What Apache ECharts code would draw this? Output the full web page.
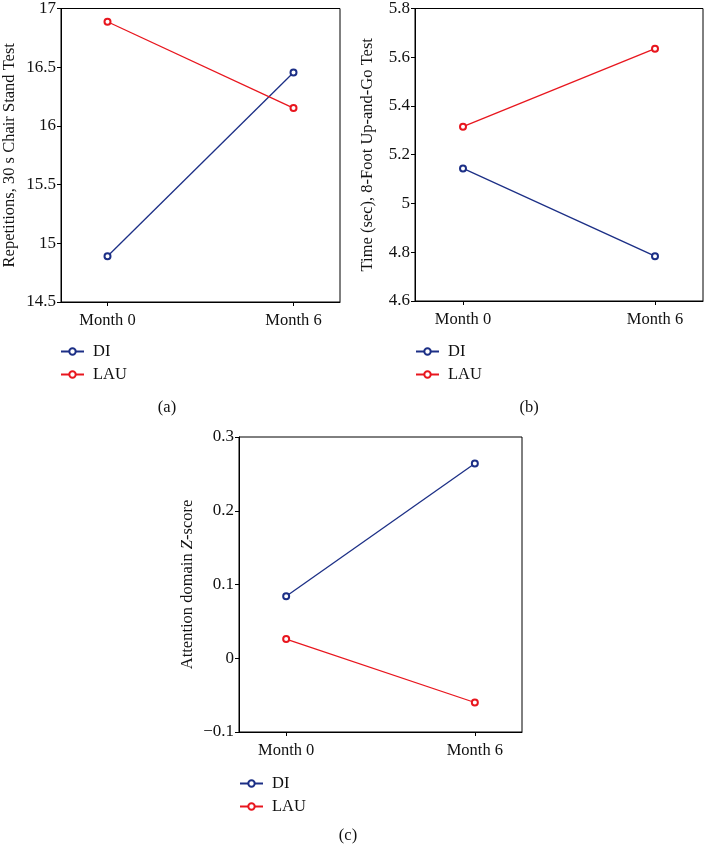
<!DOCTYPE html>
<html>
<head>
<meta charset="utf-8">
<script src="https://cdn.jsdelivr.net/npm/echarts@6/dist/echarts.min.js"></script>
<style>
html,body{margin:0;padding:0;background:#fff;}
#chart{width:704px;height:845px;}
</style>
</head>
<body>
<div id="chart"></div>
<script>
// Data
var monthValues = [0, 6];
var monthLabels = ['Month 0', 'Month 6'];
var seriesNames = ['DI', 'LAU'];

// Panel (a): Repetitions, 30 s Chair Stand Test
var chairDI = [14.89, 16.455];
var chairLAU = [16.887, 16.152];
// Panel (b): Time (sec), 8-Foot Up-and-Go Test
var tugDI = [5.144, 4.784];
var tugLAU = [5.315, 5.635];
// Panel (c): Attention domain Z-score
var attnDI = [0.084, 0.264];
var attnLAU = [0.026, -0.060];

var captions = ['(a)', '(b)', '(c)'];

var FONT = '"Liberation Serif", "DejaVu Serif", serif';
var BLUE = '#1c2f86';
var RED = '#e8161e';
var FS = 16.5;
var FS_TICK = 17;

function pairs(vals) {
  return monthValues.map(function (m, i) { return [m, vals[i]]; });
}

var grids = [
  {left: 60, top: 7, width: 280, height: 295},
  {left: 415, top: 7, width: 288, height: 294},
  {left: 239, top: 437, width: 283, height: 295}
];
var yCfg = [
  {min: 14.5, max: 17, interval: 0.5, name: 'Repetitions, 30 s Chair Stand Test', gap: 43},
  {min: 4.6, max: 5.8, interval: 0.2, name: 'Time (sec), 8-Foot Up-and-Go Test', gap: 39},
  {min: -0.1, max: 0.3, interval: 0.1, name: 'Attention domain {i|Z}-score', gap: 43}
];
var panelData = [[chairDI, chairLAU], [tugDI, tugLAU], [attnDI, attnLAU]];

var option = {
  backgroundColor: '#fff',
  animation: false,
  textStyle: {fontFamily: FONT},
  grid: grids.map(function (g) {
    return Object.assign({show: true, borderColor: '#000', borderWidth: 1, backgroundColor: 'transparent'}, g);
  }),
  xAxis: grids.map(function (g, i) {
    return {
      type: 'value', gridIndex: i, min: -1.5, max: 7.5,
      splitLine: {show: false},
      axisLine: {show: true, onZero: false, lineStyle: {color: '#000', width: 1}},
      axisTick: {show: true, length: 4, lineStyle: {color: '#000'}, customValues: monthValues},
      axisLabel: {
        color: '#111', fontSize: FS, fontFamily: FONT, margin: 10,
        customValues: monthValues,
        formatter: function (v) { return monthLabels[monthValues.indexOf(v)] || ''; }
      }
    };
  }),
  yAxis: yCfg.map(function (c, i) {
    return {
      type: 'value', gridIndex: i, min: c.min, max: c.max, interval: c.interval,
      name: c.name, nameLocation: 'middle', nameGap: c.gap,
      nameTextStyle: {color: '#111', fontSize: FS, fontFamily: FONT,
        rich: {i: {fontStyle: 'italic', fontSize: FS, fontFamily: FONT, color: '#111'}}},
      splitLine: {show: false},
      axisLine: {show: true, onZero: false, lineStyle: {color: '#000', width: 1}},
      axisTick: {show: true, length: 4, lineStyle: {color: '#000'}},
      axisLabel: {
        color: '#111', fontSize: FS_TICK, fontFamily: FONT, margin: 5,
        formatter: function (v) {
          var s = String(Math.round(v * 1000) / 1000);
          return s.replace('-', '\u2212');
        }
      }
    };
  }),
  legend: [
    {left: 60, top: 343},
    {left: 415, top: 343},
    {left: 239, top: 775}
  ].map(function (p) {
    return {
      left: p.left, top: p.top, orient: 'vertical', itemGap: 6,
      itemWidth: 23, itemHeight: 8, selectedMode: false,
      data: seriesNames,
      textStyle: {fontSize: FS, fontFamily: FONT, color: '#111', padding: [0, 0, 0, 4]},
      padding: 0
    };
  }),
  title: [
    {text: captions[0], left: 167, top: 399, textAlign: 'center'},
    {text: captions[1], left: 529, top: 399, textAlign: 'center'},
    {text: captions[2], left: 348, top: 827, textAlign: 'center'}
  ].map(function (t) {
    t.padding = 0;
    t.textStyle = {fontSize: FS, fontWeight: 'normal', fontFamily: FONT, color: '#111'};
    return t;
  }),
  series: []
};

panelData.forEach(function (pd, i) {
  pd.forEach(function (vals, k) {
    var col = k === 0 ? BLUE : RED;
    option.series.push({
      type: 'line', name: seriesNames[k], xAxisIndex: i, yAxisIndex: i,
      data: pairs(vals),
      symbol: 'emptyCircle', symbolSize: 6,
      lineStyle: {color: col, width: 1.3},
      itemStyle: {color: col, borderColor: col, borderWidth: 1.3},
      emphasis: {disabled: true}
    });
  });
});

var chart = echarts.init(document.getElementById('chart'), null, {renderer: 'canvas'});
chart.setOption(option);
</script>
</body>
</html>
